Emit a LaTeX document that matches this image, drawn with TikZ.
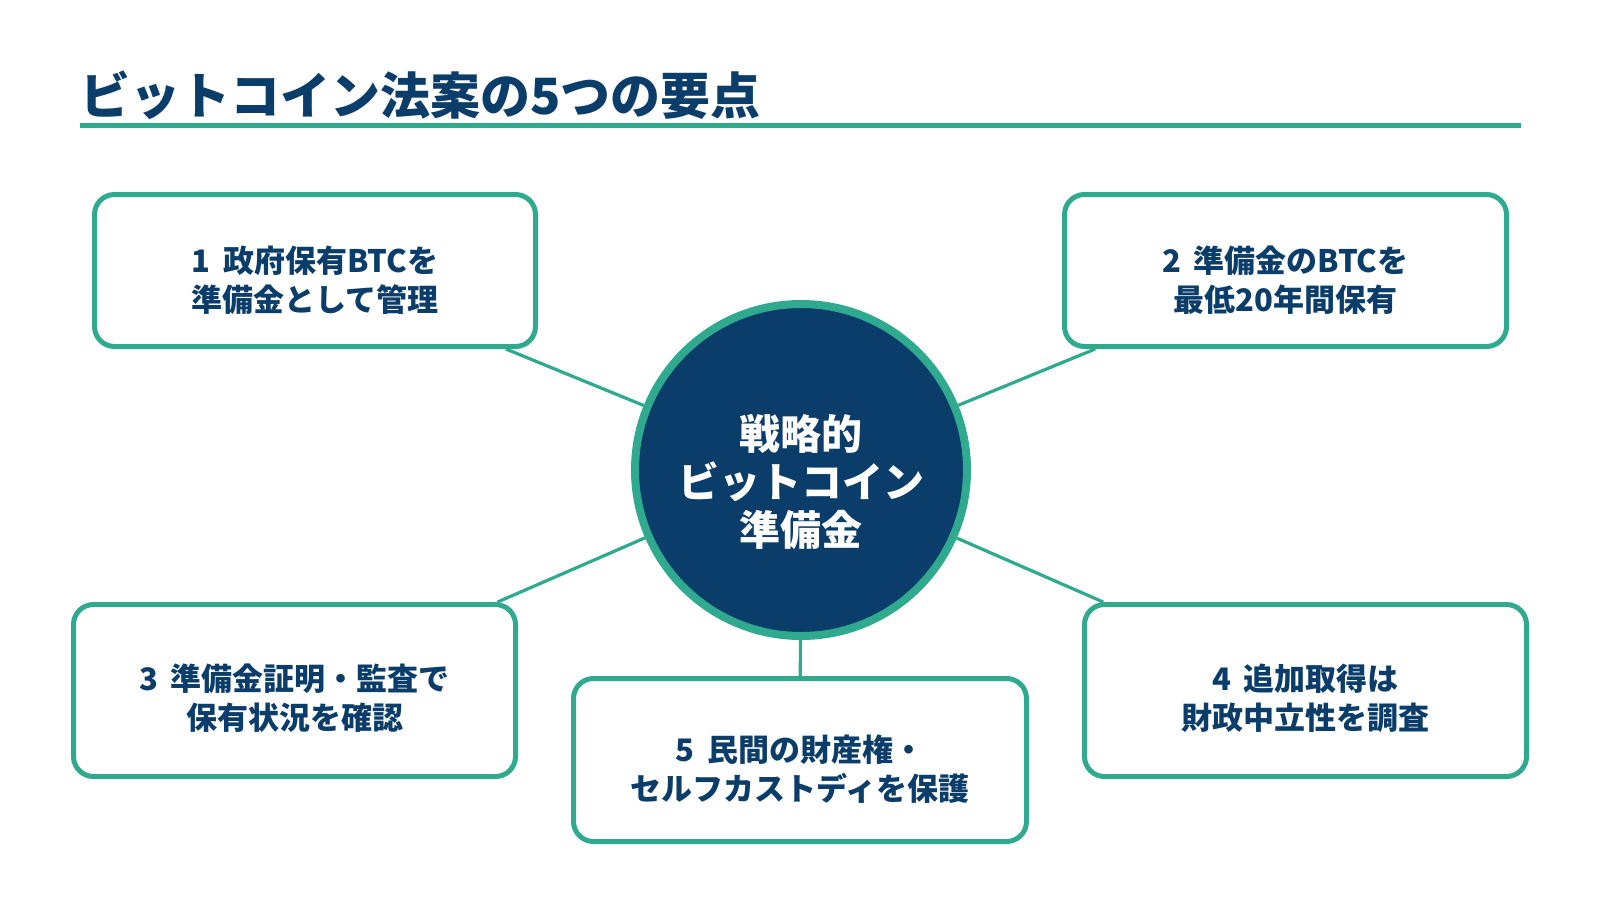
\documentclass[tikz,border=0pt]{standalone}
\usepackage{fontspec}
\setmainfont{Noto Sans CJK JP}
\usetikzlibrary{backgrounds}
\definecolor{navy}{HTML}{0B3D6A}
\definecolor{tealc}{HTML}{2FAA8F}
\tikzset{
  box/.style={draw=tealc, line width=5, fill=white, rounded corners=20, inner sep=0},
  lbl/.style={text=navy, align=center, inner sep=0, font=\bfseries\fontsize{31}{39}\selectfont},
  conn/.style={draw=tealc, line width=3.2},
  hub/.style={circle, draw=tealc, fill=navy, line width=8, minimum size=332, inner sep=0},
}
\begin{document}
\begin{tikzpicture}[x=1pt,y=-1pt]
\useasboundingbox (0,0) rectangle (1600,900);
\node[anchor=west, inner sep=0, text=navy, font=\bfseries\fontsize{50}{60}\selectfont] (title) at (80,95) {ビットコイン法案の5つの要点};
\draw[tealc, line width=5] (80,125.5) -- (1521,125.5);

\node[hub] (c) at (801,470) {};
\node[box, minimum width=441, minimum height=152] (b1) at (315,270.5) {};
\node[box, minimum width=442, minimum height=152] (b2) at (1285.5,270.5) {};
\node[box, minimum width=442, minimum height=172] (b3) at (294.5,690.5) {};
\node[box, minimum width=442, minimum height=172] (b4) at (1305.5,690.5) {};
\node[box, minimum width=453, minimum height=163] (b5) at (800,760) {};

\begin{scope}[on background layer]
\fill[white] (0,0) rectangle (1600,900);
\draw[conn] (c) -- (b1);
\draw[conn] (c) -- (b2);
\draw[conn] (c) -- (b3);
\draw[conn] (c) -- (b4);
\draw[conn] (c) -- (b5);
\end{scope}

\node[text=white, align=center, inner sep=0, font=\bfseries\fontsize{41}{48}\selectfont] (ct) at (801,482) {戦略的\\ビットコイン\\準備金};
\node[lbl] (t1) at (315,280) {1\hspace{.4em}政府保有BTCを\\準備金として管理};
\node[lbl] (t2) at (1285.5,280) {2\hspace{.4em}準備金のBTCを\\最低20年間保有};
\node[lbl] (t3) at (294.5,698) {3\hspace{.4em}準備金証明・監査で\\保有状況を確認};
\node[lbl] (t4) at (1305.5,698) {4\hspace{.4em}追加取得は\\財政中立性を調査};
\node[lbl] (t5) at (800,769) {5\hspace{.4em}民間の財産権・\\セルフカストディを保護};
\end{tikzpicture}
\end{document}
